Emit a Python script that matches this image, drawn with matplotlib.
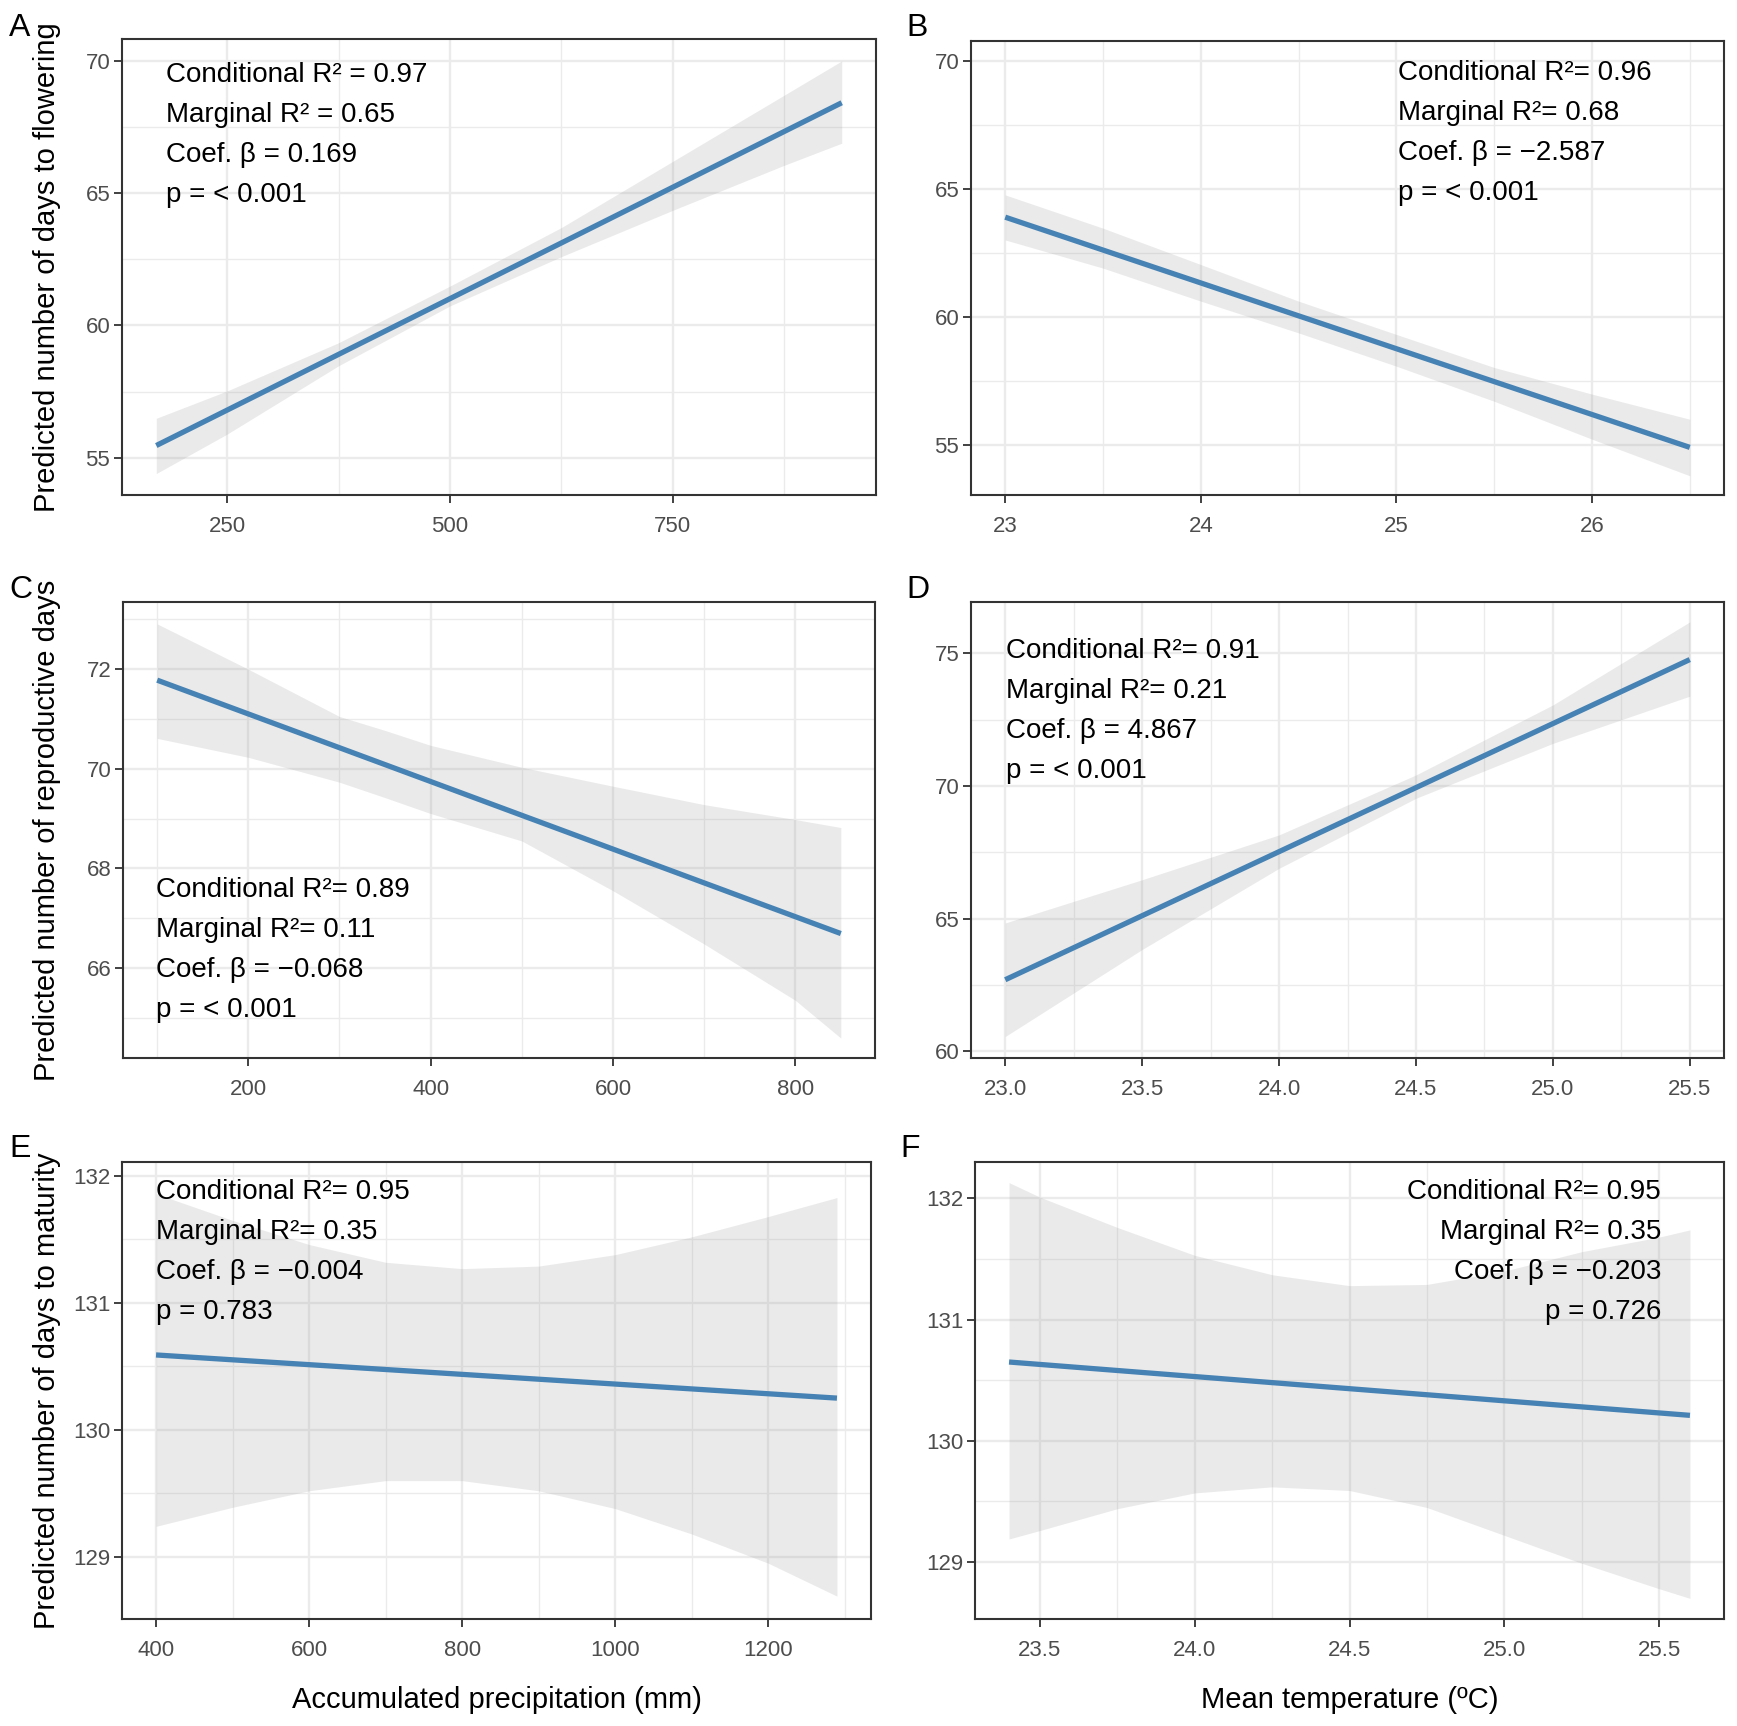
import matplotlib
matplotlib.use('Agg')
from matplotlib import pyplot as plt
from matplotlib.ticker import FixedLocator, MultipleLocator

plt.rcParams['font.family'] = ['Liberation Sans', 'DejaVu Sans']

# ---- data ----
# A: flowering vs precipitation
a_band_x = [170, 250, 375, 500, 625, 750, 875, 940]
a_hi = [56.49, 57.53, 59.35, 61.49, 63.70, 66.20, 68.70, 70.00]
a_lo = [54.40, 55.90, 58.48, 60.74, 62.60, 64.35, 66.05, 66.89]
a_line_x = [170, 940]
a_line_y = [55.46, 68.42]
a_xticks = [250, 500, 750]
a_yticks = [55, 60, 65, 70]
a_text = ['Conditional R² = 0.97', 'Marginal R² = 0.65', 'Coef. β = 0.169', 'p = < 0.001']

# B: flowering vs temperature
b_band_x = [23.0, 23.5, 24.0, 24.5, 25.0, 25.5, 26.0, 26.5]
b_hi = [64.77, 63.47, 62.05, 60.62, 59.32, 58.03, 56.99, 56.01]
b_lo = [63.01, 61.91, 60.62, 59.38, 58.08, 56.71, 55.23, 53.80]
b_line_x = [23.0, 26.5]
b_line_y = [63.90, 54.91]
b_xticks = [23, 24, 25, 26]
b_yticks = [55, 60, 65, 70]
b_text = ['Conditional R²= 0.96', 'Marginal R²= 0.68', 'Coef. β = −2.587', 'p = < 0.001']

# C: reproductive days vs precipitation
c_band_x = [100, 200, 300, 350, 400, 500, 600, 700, 800, 850]
c_hi = [72.91, 72.00, 71.05, 70.77, 70.47, 70.03, 69.65, 69.28, 68.98, 68.82]
c_lo = [70.61, 70.23, 69.73, 69.42, 69.10, 68.55, 67.55, 66.48, 65.35, 64.59]
c_line_x = [100, 850]
c_line_y = [71.78, 66.69]
c_xticks = [200, 400, 600, 800]
c_yticks = [66, 68, 70, 72]
c_text = ['Conditional R²= 0.89', 'Marginal R²= 0.11', 'Coef. β = −0.068', 'p = < 0.001']

# D: reproductive days vs temperature
d_band_x = [23.0, 23.5, 24.0, 24.5, 25.0, 25.5]
d_hi = [64.84, 66.47, 68.16, 70.42, 73.06, 76.19]
d_lo = [60.56, 63.84, 66.90, 69.54, 71.61, 73.39]
d_line_x = [23.0, 25.5]
d_line_y = [62.70, 74.77]
d_xticks = [23.0, 23.5, 24.0, 24.5, 25.0, 25.5]
d_yticks = [60, 65, 70, 75]
d_text = ['Conditional R²= 0.91', 'Marginal R²= 0.21', 'Coef. β = 4.867', 'p = < 0.001']

# E: maturity vs precipitation
e_band_x = [400, 500, 600, 700, 800, 900, 1000, 1100, 1200, 1290]
e_hi = [131.86, 131.65, 131.46, 131.32, 131.27, 131.29, 131.38, 131.52, 131.68, 131.83]
e_lo = [129.24, 129.39, 129.52, 129.60, 129.60, 129.52, 129.38, 129.18, 128.95, 128.69]
e_line_x = [400, 1290]
e_line_y = [130.59, 130.25]
e_xticks = [400, 600, 800, 1000, 1200]
e_yticks = [129, 130, 131, 132]
e_text = ['Conditional R²= 0.95', 'Marginal R²= 0.35', 'Coef. β = −0.004', 'p = 0.783']

# F: maturity vs temperature
f_band_x = [23.4, 23.5, 23.75, 24.0, 24.25, 24.5, 24.75, 25.0, 25.25, 25.5, 25.6]
f_hi = [132.13, 132.01, 131.76, 131.53, 131.37, 131.28, 131.29, 131.40, 131.56, 131.68, 131.74]
f_lo = [129.19, 129.26, 129.44, 129.57, 129.62, 129.59, 129.45, 129.22, 128.99, 128.78, 128.70]
f_line_x = [23.4, 25.6]
f_line_y = [130.65, 130.21]
f_xticks = [23.5, 24.0, 24.5, 25.0, 25.5]
f_yticks = [129, 130, 131, 132]
f_text = ['Conditional R²= 0.95', 'Marginal R²= 0.35', 'Coef. β = −0.203', 'p = 0.726']

ylab_a = 'Predicted number of days to flowering'
ylab_c = 'Predicted number of reproductive days'
ylab_e = 'Predicted number of days to maturity'
xlab_e = 'Accumulated precipitation (mm)'
xlab_f = 'Mean temperature (ºC)'

W, H = 1737, 1726
LINE_COL = '#4682B4'
GRID_COL = '#EBEBEB'
DARK = '#333333'


def px_axes(left, top, right, bottom):
    return [left / W, 1 - bottom / H, (right - left) / W, (bottom - top) / H]


def draw_panel(ax, bx, hi, lo, lx, ly, ylim, xticks, xfmt, yticks, texts, tx, ty, ha='left'):
    ax.fill_between(bx, lo, hi, color='#999999', alpha=0.2, linewidth=0, zorder=1)
    ax.plot(lx, ly, color=LINE_COL, linewidth=3.8, solid_capstyle='butt', zorder=2)
    ax.set_ylim(ylim)
    ax.xaxis.set_major_locator(FixedLocator(xticks))
    ax.set_xticklabels([xfmt % v for v in xticks])
    ax.yaxis.set_major_locator(FixedLocator(yticks))
    ax.set_yticklabels(['%d' % v for v in yticks])
    ax.xaxis.set_minor_locator(MultipleLocator((xticks[1] - xticks[0]) / 2))
    ax.yaxis.set_minor_locator(MultipleLocator((yticks[1] - yticks[0]) / 2))
    ax.set_axisbelow(True)
    ax.grid(True, which='major', color=GRID_COL, linewidth=1.7)
    ax.grid(True, which='minor', color=GRID_COL, linewidth=1.0)
    ax.tick_params(which='major', length=5.5, width=1.3, color=DARK,
                   labelsize=16, labelcolor='#4D4D4D')
    ax.tick_params(axis='x', which='major', pad=9.5)
    ax.tick_params(axis='y', which='major', pad=3)
    ax.tick_params(which='minor', length=0)
    for s in ax.spines.values():
        s.set_color(DARK)
        s.set_linewidth(1.5)
    # stats text, one line every 40 px
    for i, t in enumerate(texts):
        ax.annotate(t, xy=(0, 1), xycoords='axes fraction',
                    xytext=(tx, -(ty + 40 * i)), textcoords='offset pixels',
                    ha=ha, va='baseline', fontsize=20, color='black')


fig = plt.figure(figsize=(W / 100, H / 100), dpi=100)

ax_a = fig.add_axes(px_axes(122, 39, 876, 495))
ax_b = fig.add_axes(px_axes(971, 41, 1724, 495))
ax_c = fig.add_axes(px_axes(123, 602, 875, 1058))
ax_d = fig.add_axes(px_axes(971, 602, 1724, 1058))
ax_e = fig.add_axes(px_axes(122, 1162, 871, 1619))
ax_f = fig.add_axes(px_axes(975, 1162, 1724, 1619))

draw_panel(ax_a, a_band_x, a_hi, a_lo, a_line_x, a_line_y, (53.59, 70.83),
           a_xticks, '%d', a_yticks, a_text, 44, 43)
draw_panel(ax_b, b_band_x, b_hi, b_lo, b_line_x, b_line_y, (53.05, 70.78),
           b_xticks, '%d', b_yticks, b_text, 427, 39)
draw_panel(ax_c, c_band_x, c_hi, c_lo, c_line_x, c_line_y, (64.19, 73.35),
           c_xticks, '%d', c_yticks, c_text, 33, 295)
draw_panel(ax_d, d_band_x, d_hi, d_lo, d_line_x, d_line_y, (59.75, 76.94),
           d_xticks, '%.1f', d_yticks, d_text, 35, 56)
draw_panel(ax_e, e_band_x, e_hi, e_lo, e_line_x, e_line_y, (128.51, 132.11),
           e_xticks, '%d', e_yticks, e_text, 34, 37)
draw_panel(ax_f, f_band_x, f_hi, f_lo, f_line_x, f_line_y, (128.53, 132.30),
           f_xticks, '%.1f', f_yticks, f_text, 686, 37, ha='right')

# panel letters
for lab, x, y in [('A', 9, 36), ('B', 906, 36), ('C', 9, 598),
                  ('D', 906, 598), ('E', 9, 1157), ('F', 900, 1157)]:
    fig.text(x / W, 1 - y / H, lab, fontsize=23, ha='left', va='baseline')

# axis titles
for lab, ax in [(ylab_a, ax_a), (ylab_c, ax_c), (ylab_e, ax_e)]:
    b = ax.get_position()
    fig.text(47 / W, b.y0 + b.height / 2, lab, rotation=90, fontsize=21,
             ha='center', va='center')
fig.text((122 + 871) / 2 / W, 1 - 1700 / H, xlab_e, fontsize=21, ha='center', va='center')
fig.text((975 + 1724) / 2 / W, 1 - 1700 / H, xlab_f, fontsize=21, ha='center', va='center')

fig.savefig('out.png', dpi=100)
